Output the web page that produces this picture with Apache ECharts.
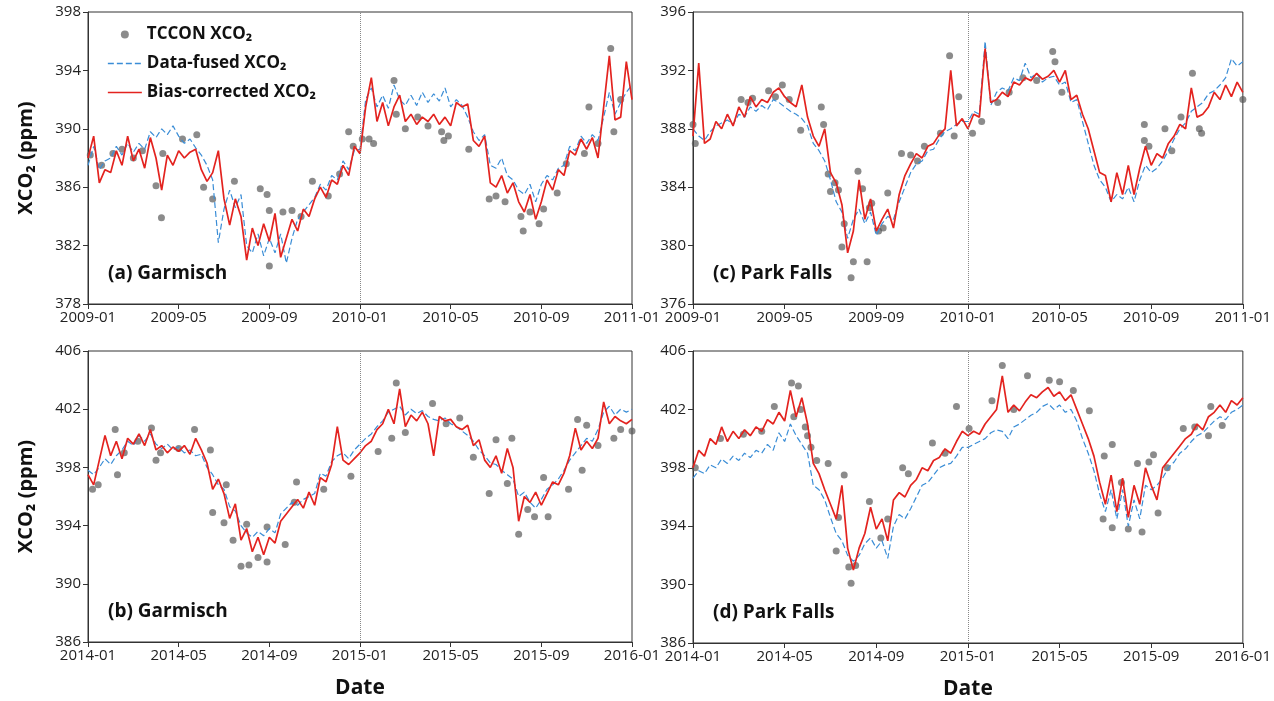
<!DOCTYPE html>
<html><head><meta charset="utf-8">
<script src="https://cdn.jsdelivr.net/npm/echarts@6/dist/echarts.min.js"></script>
<style>html,body{margin:0;padding:0;background:#fff}#c{width:1274px;height:701px}</style>
</head><body><div id="c"></div>
<script>
// step between line samples (months)
const STEP = 0.25;
const ticks0910 = ['2009-01','2009-05','2009-09','2010-01','2010-05','2010-09','2011-01'];
const ticks1415 = ['2014-01','2014-05','2014-09','2015-01','2015-05','2015-09','2016-01'];
const panelTitles = ['(a) Garmisch','(b) Garmisch','(c) Park Falls','(d) Park Falls'];
const seriesNames = ['TCCON XCO\u2082','Data-fused XCO\u2082','Bias-corrected XCO\u2082'];

// (a) Garmisch 2009-2010
const aRed = [
388.0,389.5,386.3,387.2, 387.0,388.5,387.5,389.5, 387.8,388.6,387.3,389.4, 388.0,385.8,388.2,387.5,
388.5,388.0,388.4,388.6, 387.2,386.4,387.0,388.5, 385.2,383.4,385.2,384.0, 381.0,383.2,382.0,383.5,
382.3,384.2,381.2,382.5, 383.8,383.0,384.5,384.0, 385.2,386.0,385.3,386.5, 386.2,387.5,386.8,388.8,
388.3,391.5,393.5,390.5, 391.8,390.2,391.5,392.3, 390.5,391.0,390.3,390.8, 390.5,391.0,390.3,390.8,
390.2,391.8,391.5,391.7, 389.2,388.8,389.5,386.3, 386.0,386.8,385.6,386.3, 385.0,384.3,385.5,383.8,
385.0,386.5,385.8,387.2, 386.8,388.5,388.2,389.3, 388.6,389.4,388.0,391.5, 395.0,390.6,390.8,394.6,
392.0];
const aBlue = [
387.5,388.8,387.2,387.8, 388.0,388.8,388.2,389.0, 388.4,389.0,388.6,389.8, 389.4,390.0,389.6,390.2,
389.5,389.0,389.3,388.7, 388.2,387.5,386.5,382.2, 384.5,385.8,384.6,385.5, 382.0,381.5,382.8,381.3,
382.5,381.5,382.8,380.8, 382.5,383.8,384.3,384.8, 385.3,386.2,385.8,386.8, 386.5,387.8,387.2,388.5,
388.6,392.0,392.8,391.5, 392.3,391.4,393.0,392.0, 391.6,392.3,391.6,392.5, 391.8,392.4,391.9,392.8,
391.5,392.0,391.6,390.8, 389.8,389.2,389.6,387.5, 387.3,388.0,386.8,386.5, 385.8,385.5,386.2,385.0,
386.2,386.8,386.5,387.3, 387.5,388.8,388.5,389.5, 389.0,389.6,389.2,390.8, 392.5,391.0,391.8,392.5,
393.0];
const aDotM = [0.1,0.6,1.1,1.5,2.0,2.4,3.0,3.24,3.3,4.17,4.8,5.1,5.5,6.46,7.6,7.9,8.0,8.0,8.6,9.0,9.4,9.9,10.6,11.1,11.5,11.7,12.1,12.4,12.6,13.5,13.6,14.0,14.55,15.0,15.6,15.7,15.9,16.8,17.7,18.0,18.4,19.1,19.2,19.5,19.9,20.1,20.7,21.1,21.9,22.1,22.5,23.06,23.2,23.5];
const aDotV = [388.2,387.5,388.3,388.6,388.0,388.5,386.1,383.9,388.3,389.3,389.6,386.0,385.2,386.4,385.9,385.5,384.4,380.6,384.3,384.4,384.0,386.4,385.4,386.9,389.8,388.8,389.3,389.3,389.0,393.3,391.0,390.0,390.8,390.2,389.8,389.2,389.5,388.6,385.2,385.4,385.0,384.0,383.0,384.3,383.5,384.5,385.6,387.6,388.3,391.5,389.0,395.5,389.8,392.0];

// (c) Park Falls 2009-2010
const cRed = [
387.5,392.5,387.0,387.3, 388.5,388.0,389.0,388.2, 389.5,388.8,390.2,389.5, 390.0,389.8,390.5,390.8,
390.2,389.8,389.5,391.0, 388.8,387.5,386.8,388.0, 385.0,384.3,382.8,379.5, 381.0,384.5,381.8,383.2,
381.0,381.8,382.5,381.2, 383.5,384.8,385.6,386.3, 386.0,386.8,387.0,387.6, 388.0,392.0,388.2,388.7,
388.0,389.0,388.8,393.5, 389.8,390.0,390.5,390.2, 391.2,391.0,391.5,391.3, 391.8,391.4,391.6,392.0,
391.2,392.0,390.0,390.3, 389.0,388.0,386.5,385.0, 384.8,383.0,385.0,383.5, 385.5,383.5,385.3,386.8,
385.5,386.3,386.0,387.0, 387.5,388.3,388.0,390.8, 388.8,389.0,389.5,390.5, 390.0,391.0,390.2,391.2,
390.5];
const cBlue = [
388.0,387.5,387.2,387.8, 388.2,388.4,388.6,388.3, 389.0,388.8,389.5,389.2, 389.6,389.3,390.0,389.8,
389.5,389.2,389.0,388.7, 388.2,387.0,386.5,385.8, 384.5,383.0,382.3,380.5, 381.8,382.5,381.5,382.3,
380.7,381.5,382.0,381.8, 383.0,384.0,385.0,385.6, 385.8,386.5,386.6,387.3, 387.8,388.0,388.3,388.5,
388.5,389.2,389.0,394.0, 389.6,390.5,390.8,390.6, 391.5,391.3,392.5,391.5, 391.8,391.2,391.5,391.6,
391.0,391.2,389.8,390.0, 388.5,387.0,385.5,384.5, 384.0,383.0,383.5,383.2, 384.0,383.0,384.5,385.5,
385.0,385.3,385.8,386.5, 387.3,388.0,388.4,389.2, 389.5,389.8,390.4,390.6, 391.0,391.5,392.8,392.3,
392.6];
const cDotM = [0.0,0.1,2.1,2.4,2.6,3.3,3.6,3.9,4.2,4.7,5.6,5.7,5.9,6.0,6.2,6.35,6.5,6.6,6.9,7.0,7.2,7.4,7.6,7.7,7.8,8.1,8.3,8.5,9.1,9.5,9.8,10.1,10.8,11.2,11.4,11.6,12.2,12.6,13.3,13.8,14.4,15.0,15.7,15.8,16.1,19.7,19.7,19.9,20.6,20.9,21.3,21.8,22.1,22.2,24.0];
const cDotV = [388.3,387.0,390.0,389.8,390.1,390.6,390.2,391.0,390.0,387.9,389.5,388.3,384.9,383.7,384.3,383.8,379.9,381.5,377.8,378.9,385.1,383.9,378.9,382.6,382.9,381.0,381.2,383.6,386.3,386.2,385.8,386.8,387.7,393.0,387.5,390.2,387.7,388.5,389.8,390.5,391.5,391.3,393.3,392.6,390.5,388.3,387.2,386.8,388.0,386.5,388.8,391.8,388.0,387.7,390.0];

// (b) Garmisch 2014-2015
const bRed = [
397.5,396.8,398.5,400.2, 398.8,399.8,398.6,400.0, 399.6,400.3,399.5,400.6, 399.2,399.5,399.0,399.4,
399.1,399.5,398.9,400.0, 399.2,398.3,396.5,397.2, 396.2,394.5,395.5,393.0, 393.8,392.2,393.2,392.0,
393.2,392.8,394.3,394.8, 395.3,395.8,395.2,396.3, 395.4,397.3,397.0,398.2, 400.8,398.5,398.2,398.6,
399.0,399.5,399.8,400.6, 401.0,402.0,401.0,403.4, 400.8,401.6,401.2,401.8, 401.0,398.8,401.5,401.2,
401.3,400.8,400.6,400.9, 399.5,399.9,398.5,398.0, 398.8,397.6,399.3,398.0, 394.3,396.0,395.6,396.3,
395.4,396.2,397.0,396.8, 397.6,398.8,400.7,399.2, 399.8,399.3,400.0,402.5, 401.0,401.5,401.2,401.0,
401.3];
const bBlue = [
397.8,397.5,398.0,398.6, 398.2,398.8,399.2,399.8, 399.5,400.2,399.8,400.3, 399.6,399.3,399.6,399.2,
399.4,399.0,399.2,398.8, 398.9,398.0,397.5,396.8, 396.5,395.3,395.0,394.0, 393.5,393.2,393.6,393.3,
393.8,393.5,394.8,395.2, 395.6,395.4,395.8,396.0, 396.2,397.6,397.4,398.4, 398.8,399.0,398.6,399.2,
399.6,400.0,400.3,400.8, 401.2,401.8,402.0,402.2, 401.6,402.0,401.7,401.9, 401.5,401.3,401.2,401.4,
401.0,400.8,400.5,400.2, 399.8,399.2,398.8,398.3, 398.2,397.8,397.5,397.2, 396.0,396.3,395.6,395.2,
395.8,396.5,396.8,397.2, 397.8,398.5,399.0,399.5, 400.0,399.8,400.6,401.8, 402.2,401.6,402.0,401.8,
402.0];
const bDotM = [0.2,0.45,1.2,1.3,1.6,2.2,2.8,3.0,3.2,4.0,4.7,5.4,5.5,6.0,6.1,6.4,6.75,7.0,7.1,7.5,7.9,7.9,8.7,9.1,9.2,10.4,11.6,12.8,13.4,13.6,14.0,15.2,15.8,16.4,17.0,17.7,18.0,18.5,18.7,19.0,19.4,19.7,20.1,20.3,21.2,21.6,21.8,22.0,22.5,23.2,23.5,24.0];
const bDotV = [396.5,396.8,400.6,397.5,399.0,399.8,400.7,398.5,399.0,399.3,400.6,399.2,394.9,394.2,396.8,393.0,391.2,394.1,391.3,391.8,391.5,393.9,392.7,395.6,397.0,396.5,397.4,399.1,400.0,403.8,400.4,402.4,401.0,401.4,398.7,396.2,399.9,396.9,400.0,393.4,395.1,394.6,397.3,394.6,396.5,401.3,397.8,400.9,399.5,400.0,400.6,400.5];

// (d) Park Falls 2014-2015
const dRed = [
398.0,399.2,398.8,400.0, 399.6,400.8,399.8,400.5, 400.0,400.6,400.2,400.8, 400.5,401.3,401.0,401.8,
401.2,403.3,401.5,402.8, 401.0,398.3,397.6,396.5, 395.5,394.5,396.8,392.5, 391.0,392.5,393.5,395.3,
393.8,394.5,393.0,395.8, 396.3,396.0,396.8,397.2, 398.0,397.8,398.5,398.7, 399.3,399.0,399.8,400.5,
400.2,400.5,400.3,401.0, 401.5,402.0,404.3,401.8, 402.3,401.9,402.5,403.0, 402.8,403.2,403.5,402.9,
403.2,402.6,403.0,402.0, 401.0,400.0,398.8,397.0, 395.5,397.5,395.0,397.3, 394.6,396.8,395.5,398.0,
396.8,395.8,398.0,398.5, 399.0,399.5,400.0,400.3, 401.0,400.6,401.5,401.8, 402.3,401.8,402.6,402.3,
402.8];
const dBlue = [
397.3,397.8,397.6,398.2, 398.0,398.6,398.3,398.8, 398.5,399.0,398.7,399.2, 399.0,399.6,399.2,400.4,
399.8,401.0,400.2,399.6, 399.0,396.8,396.5,395.8, 394.6,393.5,393.0,392.0, 391.6,392.0,392.8,393.2,
392.5,393.0,391.8,394.0, 394.8,394.5,395.2,396.0, 396.8,397.0,397.5,398.0, 398.2,398.3,398.8,399.4,
399.4,399.6,399.8,400.0, 400.4,400.6,400.5,400.0, 400.8,401.0,401.3,401.6, 401.8,402.2,402.4,402.0,
402.3,401.8,402.0,401.2, 400.0,399.0,397.8,396.2, 395.0,396.5,394.5,396.5, 394.0,395.8,394.5,396.8,
396.5,396.8,397.3,398.0, 398.4,399.0,399.3,399.8, 400.2,400.4,400.8,401.2, 401.5,401.3,401.8,402.0,
402.3];
const dDotM = [0.1,1.2,2.2,3.0,3.55,4.3,4.4,4.6,4.7,4.9,5.0,5.15,5.4,5.9,6.25,6.35,6.6,6.8,6.9,7.1,7.7,8.2,8.5,9.15,9.4,10.45,11.0,11.5,12.05,13.05,13.5,14.0,14.6,15.55,16.0,16.6,17.3,17.95,17.9,18.3,18.3,18.7,19.0,19.4,19.6,19.9,20.1,20.3,20.7,21.4,21.9,22.5,22.6,23.1];
const dDotV = [398.0,400.0,400.3,400.5,402.2,403.8,401.5,403.6,402.0,400.8,400.2,399.4,398.5,398.3,392.3,394.6,397.5,391.2,390.1,391.3,395.7,393.2,394.5,398.0,397.6,399.7,399.0,402.2,400.7,402.6,405.0,402.0,404.3,404.0,403.9,403.3,401.9,398.8,394.5,399.6,393.9,397.0,393.8,398.3,393.6,398.4,398.9,394.9,398.0,400.7,400.8,400.2,402.2,400.9];

const FONT = '"Open Sans", "Liberation Sans", sans-serif';
const panels = [
  {red:aRed, blue:aBlue, dm:aDotM, dv:aDotV, ticks:ticks0910, ymin:378, ymax:398, left:88, top:12, width:544, height:292, title:panelTitles[0], yName:true, xName:false},
  {red:cRed, blue:cBlue, dm:cDotM, dv:cDotV, ticks:ticks0910, ymin:376, ymax:396, left:693, top:12, width:550, height:292, title:panelTitles[2], yName:false, xName:false},
  {red:bRed, blue:bBlue, dm:bDotM, dv:bDotV, ticks:ticks1415, ymin:386, ymax:406, left:88, top:351, width:544, height:291, title:panelTitles[1], yName:true, xName:true},
  {red:dRed, blue:dBlue, dm:dDotM, dv:dDotV, ticks:ticks1415, ymin:386, ymax:406, left:693, top:351, width:551, height:292, title:panelTitles[3], yName:false, xName:true}
];

const grid = [], xAxis = [], yAxis = [], series = [], graphic = [];
const axisCol = '#333';
const RED = '#e3231f', BLUE = '#3a8dd6';
panels.forEach((p, k) => {
  grid.push({left:p.left, top:p.top, width:p.width, height:p.height, show:true, borderColor:axisCol, borderWidth:1, backgroundColor:'#fff'});
  xAxis.push({
    type:'value', gridIndex:k, min:0, max:24, interval:4,
    axisLine:{show:true, lineStyle:{color:axisCol, width:1}},
    axisTick:{show:true, inside:false, length:5, lineStyle:{color:axisCol}},
    splitLine:{show:false},
    axisLabel:{color:'#222', fontSize:15, fontFamily:FONT, margin:6, showMinLabel:true, showMaxLabel:true,
      formatter:(v)=>p.ticks[Math.round(v/4)]},
    name: p.xName ? 'Date' : '', nameLocation:'middle', nameGap:36,
    nameTextStyle:{fontSize:21, fontWeight:'bold', fontFamily:FONT, color:'#111'}
  });
  yAxis.push({
    type:'value', gridIndex:k, min:p.ymin, max:p.ymax, interval:4,
    axisLine:{show:true, lineStyle:{color:axisCol, width:1}},
    axisTick:{show:true, inside:false, length:5, lineStyle:{color:axisCol}},
    splitLine:{show:false},
    axisLabel:{color:'#222', fontSize:15, fontFamily:FONT, margin:7},
    name: p.yName ? 'XCO\u2082 (ppm)' : '', nameLocation:'middle', nameGap:52, nameRotate:90,
    nameTextStyle:{fontSize:20, fontWeight:'bold', fontFamily:FONT, color:'#111'}
  });
  series.push({
    name:seriesNames[0], type:'scatter', xAxisIndex:k, yAxisIndex:k,
    data:p.dm.map((m,i)=>[m, p.dv[i]]), symbol:'circle', symbolSize:7,
    itemStyle:{color:'rgba(85,85,85,0.85)'}, z:2,
    markLine:{silent:true, symbol:'none', label:{show:false},
      lineStyle:{type:'dotted', color:'#888', width:1}, data:[{xAxis:12}]}
  });
  series.push({
    name:seriesNames[1], type:'line', xAxisIndex:k, yAxisIndex:k,
    data:p.blue.map((v,i)=>[i*STEP, v]), showSymbol:false, symbol:'none',
    lineStyle:{color:BLUE, width:1.2, type:[6,3]}, itemStyle:{color:BLUE}, z:3
  });
  series.push({
    name:seriesNames[2], type:'line', xAxisIndex:k, yAxisIndex:k,
    data:p.red.map((v,i)=>[i*STEP, v]), showSymbol:false, symbol:'none',
    lineStyle:{color:RED, width:1.7}, itemStyle:{color:RED}, z:4
  });
  graphic.push({type:'text', left:p.left+20, top:p.top+p.height-40,
    style:{text:p.title, font:'bold 19px ' + FONT, fill:'#111'}});
});

const chart = echarts.init(document.getElementById('c'), null, {renderer:'canvas'});
chart.setOption({
  animation:false,
  backgroundColor:'#fff',
  grid, xAxis, yAxis, series, graphic,
  legend:{
    data:[
      {name:seriesNames[0], icon:'circle', itemStyle:{color:'rgba(85,85,85,0.85)'}},
      {name:seriesNames[1], itemStyle:{opacity:0}, lineStyle:{color:BLUE, width:1.4, type:[6,3]}},
      {name:seriesNames[2], itemStyle:{opacity:0}, lineStyle:{color:RED, width:1.7}}
    ],
    orient:'vertical', left:102, top:20, itemWidth:34, itemHeight:8, itemGap:10,
    textStyle:{fontSize:17, fontWeight:'bold', fontFamily:FONT, color:'#111', lineHeight:19}
  }
});
</script></body></html>
